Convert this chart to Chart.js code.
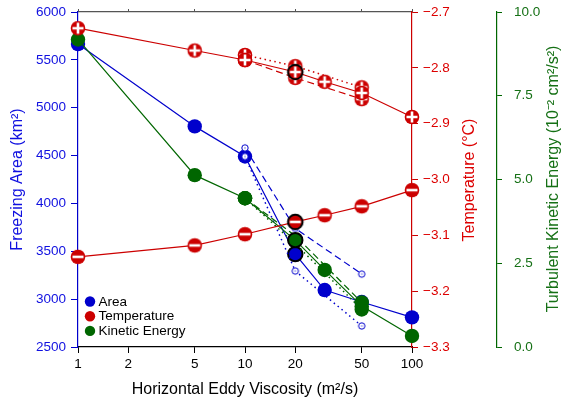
<!DOCTYPE html>
<html>
<head>
<meta charset="utf-8">
<script src="https://cdn.jsdelivr.net/npm/chart.js@4/dist/chart.umd.min.js"></script>
<style>
html,body{margin:0;padding:0;background:#fff;}
canvas{display:block;}
</style>
</head>
<body>
<canvas id="c" width="563" height="405"></canvas>
<script>
// ---- data ----
const xVals = [1, 5, 10, 20, 30, 50, 100];
const xVar = [10, 20, 50];
const areaMain = [5665, 4805, 4490, 3470, 3095, 2970, 2810];
const areaDashed = [4580, 3740, 3262];
const areaDotted = [4490, 3294, 2720];
const tempUpper = [-2.729, -2.769, -2.786, -2.8075, -2.825, -2.845, -2.888];
const tempUpperDashed = [-2.786, -2.818, -2.856];
const tempUpperDotted = [-2.777, -2.797, -2.835];
const tempLower = [-3.1385, -3.118, -3.098, -3.076, -3.064, -3.048, -3.019];
const tkeMain = [9.18, 5.13, 4.44, 3.19, 2.30, 1.22, 0.33];
const tkeDashed = [4.44, 3.32, 1.33];
const tkeDotted = [4.44, 3.08, 1.12];
const xTicks = [1, 2, 5, 10, 20, 50, 100];
const areaTicks = [2500, 3000, 3500, 4000, 4500, 5000, 5500, 6000];
const tempTicks = [-3.3, -3.2, -3.1, -3.0, -2.9, -2.8, -2.7];
const tkeTicks = [0, 2.5, 5, 7.5, 10];
const legendLabels = ['Area', 'Temperature', 'Kinetic Energy'];

const BLUE = '#0000cc', RED = '#cc0000', GREEN = '#006600';
const BLUE_T = '#1010e0', RED_T = '#dd0000', GREEN_T = '#157015';
const FONT = "'Liberation Sans', Arial, Helvetica, sans-serif";
const CTRL = 20;

function pts(xs, ys) { return xs.map((x, i) => ({x: x, y: ys[i]})); }

function signMarker(fill, sign, ring) {
  const c = document.createElement('canvas');
  c.width = 20; c.height = 20;
  const g = c.getContext('2d');
  g.beginPath(); g.arc(10, 10, 7.3, 0, Math.PI * 2); g.fillStyle = fill; g.fill();
  if (ring) { g.lineWidth = 2; g.strokeStyle = '#000'; g.beginPath(); g.arc(10, 10, 7.3, 0, Math.PI * 2); g.stroke(); }
  g.strokeStyle = '#fff'; g.lineWidth = 2.6;
  g.beginPath(); g.moveTo(4.5, 10); g.lineTo(15.5, 10);
  if (sign === '+') { g.moveTo(10, 4.5); g.lineTo(10, 15.5); }
  g.stroke();
  return c;
}
function smallCircle(col) {
  const c = document.createElement('canvas');
  c.width = 10; c.height = 10;
  const g = c.getContext('2d');
  g.beginPath(); g.arc(5, 5, 3.2, 0, Math.PI * 2); g.fillStyle = '#fff'; g.fill();
  g.lineWidth = 1; g.strokeStyle = col; g.stroke();
  g.fillStyle = col; g.fillRect(4.5, 4.5, 1, 1);
  return c;
}
const plusM = signMarker(RED, '+', false), plusR = signMarker(RED, '+', true);
const minusM = signMarker(RED, '-', false), minusR = signMarker(RED, '-', true);
const smallBlue = smallCircle(BLUE);

const ringW = xs => xs.map(x => x === CTRL ? 2 : 0);
const styleArr = (xs, a, b) => xs.map(x => x === CTRL ? b : a);

const datasets = [
  {label: 'tempUpper', data: pts(xVals, tempUpper), yAxisID: 'y1', borderColor: RED, borderWidth: 1.2,
   pointStyle: styleArr(xVals, plusM, plusR), order: 1},
  {label: 'tempLower', data: pts(xVals, tempLower), yAxisID: 'y1', borderColor: RED, borderWidth: 1.2,
   pointStyle: styleArr(xVals, minusM, minusR), order: 1},
  {label: 'tempDashed', data: pts(xVar, tempUpperDashed), yAxisID: 'y1', borderColor: RED, borderWidth: 1.2,
   borderDash: [7, 4], pointStyle: plusM, order: 2},
  {label: 'tempDotted', data: pts(xVar, tempUpperDotted), yAxisID: 'y1', borderColor: RED, borderWidth: 1.5,
   borderDash: [1.5, 3.5], pointStyle: plusM, order: 2},
  {label: 'tke', data: pts(xVals, tkeMain), yAxisID: 'y2', borderColor: GREEN, backgroundColor: GREEN,
   borderWidth: 1.2, pointRadius: 7.2, pointBackgroundColor: GREEN, pointBorderColor: '#000',
   pointBorderWidth: ringW(xVals), order: 3},
  {label: 'tkeDashed', data: pts(xVar, tkeDashed), yAxisID: 'y2', borderColor: GREEN, borderWidth: 1.2,
   borderDash: [7, 4], pointRadius: [7.2, 0, 7.2], pointBackgroundColor: GREEN, pointBorderWidth: 0, order: 4},
  {label: 'tkeDotted', data: pts(xVar, tkeDotted), yAxisID: 'y2', borderColor: GREEN, borderWidth: 1.5,
   borderDash: [1.5, 3.5], pointRadius: [7.2, 0, 7.2], pointBackgroundColor: GREEN, pointBorderWidth: 0, order: 4},
  {label: 'areaDashed', data: pts(xVar, areaDashed), yAxisID: 'y', borderColor: BLUE, borderWidth: 1.2,
   borderDash: [7, 4], pointStyle: smallBlue, order: 5},
  {label: 'areaDotted', data: pts(xVar, areaDotted), yAxisID: 'y', borderColor: BLUE, borderWidth: 1.5,
   borderDash: [1.5, 3.5], pointStyle: smallBlue, order: 5},
  {label: 'area', data: pts(xVals, areaMain), yAxisID: 'y', borderColor: BLUE, borderWidth: 1.2,
   pointRadius: 7.2, pointBackgroundColor: BLUE, pointBorderColor: '#000',
   pointBorderWidth: ringW(xVals), order: 6}
];
datasets.forEach(d => { d.clip = false; d.fill = false; d.tension = 0; });

const tickFont = {family: FONT, size: 13.5};
const titleFont = {family: FONT, size: 16};
function setTicks(arr) { return s => { s.ticks = arr.map(v => ({value: v})); }; }
function fitter(prop, size) {
  return s => { s[prop] = size; s.paddingTop = 0; s.paddingBottom = 0; s.paddingLeft = 0; s.paddingRight = 0; };
}
const minus = v => String(v).replace('-', '\u2212');

const extras = {
  id: 'extras',
  afterDraw(chart) {
    const ctx = chart.ctx;
    ctx.save();
    ctx.textAlign = 'center'; ctx.textBaseline = 'middle';
    ctx.font = '16px ' + FONT;
    ctx.fillStyle = RED_T;
    ctx.save(); ctx.translate(470, 180); ctx.rotate(-Math.PI / 2);
    ctx.fillText('Temperature (\u00B0C)', 0, 0); ctx.restore();
    ctx.fillStyle = GREEN_T;
    ctx.save(); ctx.translate(554, 179); ctx.rotate(-Math.PI / 2);
    ctx.fillText('Turbulent Kinetic Energy (10\u207B\u00B2 cm\u00B2/s\u00B2)', 0, 0); ctx.restore();
    const cols = [BLUE, RED, GREEN];
    ctx.textAlign = 'left';
    ctx.font = '13.5px ' + FONT;
    legendLabels.forEach((t, i) => {
      const y = 301.5 + i * 14.7;
      ctx.beginPath(); ctx.arc(90, y, 5.2, 0, Math.PI * 2); ctx.fillStyle = cols[i]; ctx.fill();
      ctx.fillStyle = '#000'; ctx.fillText(t, 98.5, y + 0.5);
    });
    ctx.restore();
  }
};

new Chart(document.getElementById('c'), {
  type: 'line',
  data: {datasets: datasets},
  plugins: [extras],
  options: {
    responsive: false,
    animation: false,
    devicePixelRatio: 1,
    layout: {padding: 0},
    plugins: {legend: {display: false}, tooltip: {enabled: false}},
    scales: {
      x: {
        type: 'logarithmic', position: 'bottom', min: 1, max: 100,
        afterBuildTicks: setTicks(xTicks),
        afterFit: fitter('height', 58),
        border: {color: '#000', width: 1.2},
        grid: {drawOnChartArea: false, tickLength: 6, color: '#000', tickWidth: 1},
        ticks: {font: tickFont, color: '#000', padding: 3, autoSkip: false, maxRotation: 0,
                callback: v => String(v)},
        title: {display: true, text: 'Horizontal Eddy Viscosity (m\u00B2/s)', font: titleFont,
                color: '#000', padding: {top: 0, bottom: 6}}
      },
      xTop: {
        type: 'logarithmic', position: 'top', min: 1, max: 100,
        afterBuildTicks: setTicks(xTicks),
        afterFit: fitter('height', 12),
        border: {color: '#555', width: 1.2},
        grid: {drawOnChartArea: false, tickLength: 3, color: '#555'},
        ticks: {display: false}
      },
      y: {
        type: 'linear', position: 'left', min: 2500, max: 6000,
        afterBuildTicks: setTicks(areaTicks),
        afterFit: fitter('width', 78),
        border: {color: BLUE, width: 1.2},
        grid: {drawOnChartArea: false, tickLength: 7, color: BLUE},
        ticks: {font: tickFont, color: BLUE_T, padding: 5, callback: v => String(v)},
        title: {display: true, text: 'Freezing Area (km\u00B2)', font: titleFont, color: BLUE_T,
                padding: {top: 8, bottom: 0}}
      },
      y1: {
        type: 'linear', position: 'right', min: -3.3, max: -2.7,
        afterBuildTicks: setTicks(tempTicks),
        afterFit: fitter('width', 85),
        border: {color: RED, width: 1.2},
        grid: {drawOnChartArea: false, tickLength: 6, color: RED},
        ticks: {font: tickFont, color: RED_T, padding: 5, callback: v => minus(v.toFixed(1))}
      },
      y2: {
        type: 'linear', position: 'right', min: 0, max: 10,
        afterBuildTicks: setTicks(tkeTicks),
        afterFit: fitter('width', 66),
        border: {color: GREEN, width: 1.2},
        grid: {drawOnChartArea: false, tickLength: 5, color: GREEN},
        ticks: {font: tickFont, color: GREEN_T, padding: 12, callback: v => v.toFixed(1)}
      }
    }
  }
});
</script>
</body>
</html>
